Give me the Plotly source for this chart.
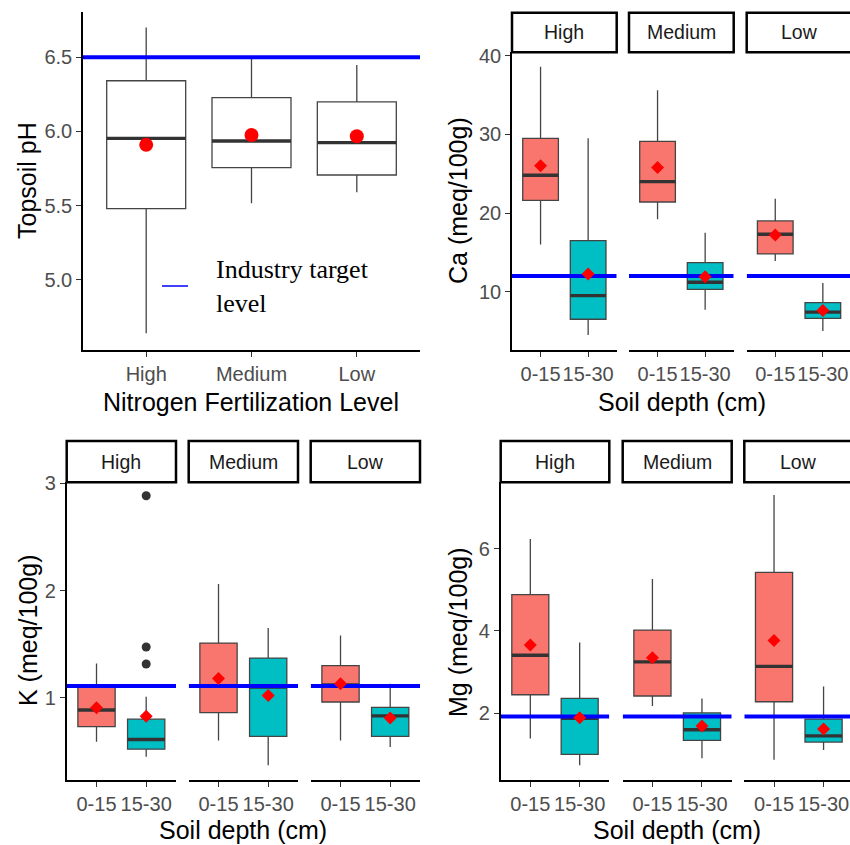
import plotly.graph_objects as go

# ---------------- data ----------------
levels = ["High", "Medium", "Low"]
depths = ["0-15", "15-30"]

# Topsoil pH by nitrogen level
ph_q1 = [5.48, 5.756, 5.707]
ph_med = [5.954, 5.936, 5.925]
ph_q3 = [6.342, 6.228, 6.199]
ph_lo = [4.64, 5.516, 5.59]
ph_hi = [6.70, 6.50, 6.448]
ph_mean = [5.91, 5.976, 5.968]
ph_target = 6.5

# order: High 0-15, High 15-30, Medium 0-15, Medium 15-30, Low 0-15, Low 15-30
ca_q1 = [21.6, 6.5, 21.4, 10.3, 14.8, 6.6]
ca_med = [24.8, 9.5, 24.0, 11.2, 17.3, 7.4]
ca_q3 = [29.5, 16.5, 29.1, 13.7, 19.0, 8.6]
ca_lo = [16.0, 4.5, 19.2, 7.7, 13.9, 5.0]
ca_hi = [38.6, 29.5, 35.6, 17.5, 21.8, 11.1]
ca_mean = [26.0, 12.25, 25.8, 11.9, 17.2, 7.6]
ca_target = 12.0

k_q1 = [0.73, 0.52, 0.86, 0.64, 0.96, 0.64]
k_med = [0.885, 0.61, 1.11, 1.10, 1.12, 0.83]
k_q3 = [1.10, 0.80, 1.51, 1.37, 1.30, 0.91]
k_lo = [0.59, 0.45, 0.60, 0.37, 0.60, 0.54]
k_hi = [1.32, 1.01, 2.06, 1.65, 1.58, 1.13]
k_mean = [0.907, 0.826, 1.18, 1.02, 1.13, 0.81]
k_out_group = [1, 1, 1]
k_out = [2.885, 1.473, 1.314]
k_target = 1.11

mg_q1 = [2.45, 1.0, 2.42, 1.34, 2.28, 1.30]
mg_med = [3.41, 1.88, 3.25, 1.60, 3.14, 1.45]
mg_q3 = [4.88, 2.36, 4.02, 2.01, 5.42, 1.86]
mg_lo = [1.39, 0.74, 2.18, 0.91, 0.87, 1.11]
mg_hi = [6.23, 3.72, 5.26, 2.36, 7.30, 2.65]
mg_mean = [3.66, 1.89, 3.35, 1.69, 3.77, 1.62]
mg_target = 1.92

# ---------------- styling ----------------
W, H = 850, 845
FONT = "Liberation Sans, Arial, sans-serif"
SERIF = "Liberation Serif, Times New Roman, serif"
FILLS = ["#F8766D", "#00BFC4"]
OUTLINE = "#444444"
MEDCOL = "#333333"
TARGET = "#0000FF"
BW = 0.75
TICKFONT = dict(family=FONT, size=20, color="#4D4D4D")
TITLEFONT = dict(family=FONT, size=25, color="black")


def px(x):
    return x / W


def py(y):
    return 1 - y / H


fig = go.Figure()
annotations = []
shapes = []
layout = {}


def axis_common():
    return dict(showline=True, linecolor="black", linewidth=1.5, ticks="outside",
                ticklen=5, tickwidth=1.2, tickcolor="#333333", tickfont=TICKFONT,
                showgrid=False, zeroline=False, fixedrange=True, automargin=False)


def add_box(xa, ya, pos, q1, med, q3, lo, hi, color):
    fig.add_trace(go.Box(x=[pos], q1=[q1], median=[med], q3=[q3], lowerfence=[lo],
                         upperfence=[hi], width=BW, whiskerwidth=0, boxpoints=False,
                         fillcolor=color, line=dict(color=OUTLINE, width=1.3),
                         xaxis=xa, yaxis=ya, showlegend=False, hoverinfo="skip"))


def add_median(xa, ya, pos, med):
    fig.add_trace(go.Scatter(x=[pos - BW / 2, pos + BW / 2], y=[med, med], mode="lines",
                             line=dict(color=MEDCOL, width=3.3), xaxis=xa, yaxis=ya,
                             showlegend=False, hoverinfo="skip"))


# ---------------- panel 1: pH ----------------
p1_x = (83, 420)
p1_y = (12, 350)
p1_range = [-0.6, 2.6]
xa, ya = "x", "y"
for i in range(3):
    add_box(xa, ya, i, ph_q1[i], ph_med[i], ph_q3[i], ph_lo[i], ph_hi[i], "white")
for i in range(3):
    add_median(xa, ya, i, ph_med[i])
fig.add_trace(go.Scatter(x=p1_range, y=[ph_target, ph_target], mode="lines",
                         line=dict(color=TARGET, width=4), xaxis=xa, yaxis=ya,
                         showlegend=False, hoverinfo="skip"))
fig.add_trace(go.Scatter(x=list(range(3)), y=ph_mean, mode="markers",
                         marker=dict(color="red", size=14, symbol="circle"),
                         xaxis=xa, yaxis=ya, showlegend=False, hoverinfo="skip"))
ax = axis_common()
ax.update(domain=[px(p1_x[0]), px(p1_x[1])], range=p1_range, anchor="y",
          tickvals=list(range(3)), ticktext=levels)
layout["xaxis"] = ax
ay = axis_common()
ay.update(domain=[py(p1_y[1]), py(p1_y[0])], range=[4.528, 6.805], anchor="x",
          tickvals=[5.0, 5.5, 6.0, 6.5], tickformat=".1f")
layout["yaxis"] = ay
annotations.append(dict(text="Nitrogen Fertilization Level", x=px(251), y=py(402),
                        xref="paper", yref="paper", showarrow=False, font=TITLEFONT,
                        xanchor="center", yanchor="middle"))
annotations.append(dict(text="Topsoil pH", x=px(27), y=py(181), xref="paper", yref="paper",
                        showarrow=False, font=TITLEFONT, textangle=-90,
                        xanchor="center", yanchor="middle"))
# legend
shapes.append(dict(type="line", xref="paper", yref="paper", x0=px(162), x1=px(188),
                   y0=py(286), y1=py(286), line=dict(color=TARGET, width=1.5)))
annotations.append(dict(text="Industry target<br>level", x=px(214), y=py(286),
                        xref="paper", yref="paper", showarrow=False, align="left",
                        font=dict(family=SERIF, size=26, color="black"),
                        xanchor="left", yanchor="middle"))


# ---------------- facet panels ----------------
def facet_panel(first_axis, ynum, facets_px, y_px, strip_px, yrange, yticks,
                q1, med, q3, lo, hi, mean, target, ytitle, ytitle_pos, xtitle_pos,
                outliers=None):
    yname = "y%d" % ynum
    full_w = 2.2
    for f, (x0, x1) in enumerate(facets_px):
        n = first_axis + f
        xa = "x%d" % n
        width_px = x1 - x0
        vis_x1 = min(x1, W)
        rng = [-0.6, -0.6 + full_w * (vis_x1 - x0) / width_px]
        for d in range(2):
            idx = f * 2 + d
            add_box(xa, yname, d, q1[idx], med[idx], q3[idx], lo[idx], hi[idx], FILLS[d])
        for d in range(2):
            idx = f * 2 + d
            add_median(xa, yname, d, med[idx])
        if outliers is not None:
            grp, vals = outliers
            ox = [g - 2 * f for g, v in zip(grp, vals) if g // 2 == f]
            oy = [v for g, v in zip(grp, vals) if g // 2 == f]
            if ox:
                fig.add_trace(go.Scatter(x=ox, y=oy, mode="markers",
                                         marker=dict(color="#333333", size=9),
                                         xaxis=xa, yaxis=yname, showlegend=False,
                                         hoverinfo="skip"))
        fig.add_trace(go.Scatter(x=[-0.6, 1.6], y=[target, target], mode="lines",
                                 line=dict(color=TARGET, width=4), xaxis=xa, yaxis=yname,
                                 showlegend=False, hoverinfo="skip"))
        fig.add_trace(go.Scatter(x=[0, 1], y=mean[f * 2:f * 2 + 2], mode="markers",
                                 marker=dict(color="red", size=10, symbol="diamond"),
                                 xaxis=xa, yaxis=yname, showlegend=False, hoverinfo="skip"))
        ax = axis_common()
        ax.update(domain=[px(x0), px(vis_x1)], range=rng, anchor=yname,
                  tickvals=[0, 1], ticktext=depths)
        layout["xaxis%d" % n] = ax
        # strip
        shapes.append(dict(type="rect", xref="paper", yref="paper", x0=px(x0), x1=px(x1),
                           y0=py(strip_px[1]), y1=py(strip_px[0]),
                           line=dict(color="black", width=2.5), fillcolor="white"))
        annotations.append(dict(text=levels[f], x=px((x0 + x1) / 2),
                                y=py((strip_px[0] + strip_px[1]) / 2),
                                xref="paper", yref="paper", showarrow=False,
                                font=dict(family=FONT, size=19.5, color="#1A1A1A"),
                                xanchor="center", yanchor="middle"))
    ay = axis_common()
    ay.update(domain=[py(y_px[1]), py(y_px[0])], range=yrange, anchor="x%d" % first_axis,
              tickvals=yticks)
    layout["yaxis%d" % ynum] = ay
    annotations.append(dict(text=ytitle, x=px(ytitle_pos[0]), y=py(ytitle_pos[1]),
                            xref="paper", yref="paper", showarrow=False, font=TITLEFONT,
                            textangle=-90, xanchor="center", yanchor="middle"))
    annotations.append(dict(text="Soil depth (cm)", x=px(xtitle_pos[0]), y=py(xtitle_pos[1]),
                            xref="paper", yref="paper", showarrow=False, font=TITLEFONT,
                            xanchor="center", yanchor="middle"))


facet_panel(2, 2, [(512, 616.7), (629, 733.7), (746.7, 851.4)], (52.3, 350), (12.7, 52.3),
            [2.59, 40.43], [10, 20, 30, 40],
            ca_q1, ca_med, ca_q3, ca_lo, ca_hi, ca_mean, ca_target,
            "Ca (meq/100g)", (458, 201), (682, 402))

facet_panel(5, 3, [(66.7, 176), (188.7, 298), (310.7, 420)], (482.3, 780), (441, 482.3),
            [0.232, 3.01], [1, 2, 3],
            k_q1, k_med, k_q3, k_lo, k_hi, k_mean, k_target,
            "K (meq/100g)", (28, 631), (243, 830), outliers=(k_out_group, k_out))

facet_panel(8, 4, [(500.7, 609.3), (622.7, 731.7), (744.3, 853.3)], (482.3, 780), (441, 482.3),
            [0.38, 7.61], [2, 4, 6],
            mg_q1, mg_med, mg_q3, mg_lo, mg_hi, mg_mean, mg_target,
            "Mg (meq/100g)", (458, 632), (677, 830))

layout.update(width=W, height=H, autosize=False, margin=dict(l=0, r=0, t=0, b=0, pad=0),
              paper_bgcolor="white", plot_bgcolor="white", showlegend=False,
              annotations=annotations, shapes=shapes, boxmode="overlay",
              font=dict(family=FONT), template="none")
fig.update_layout(**layout)
fig.write_html("out.html", config={"displayModeBar": False},
               post_script="document.body.style.margin='0';document.body.style.overflow='hidden';")
